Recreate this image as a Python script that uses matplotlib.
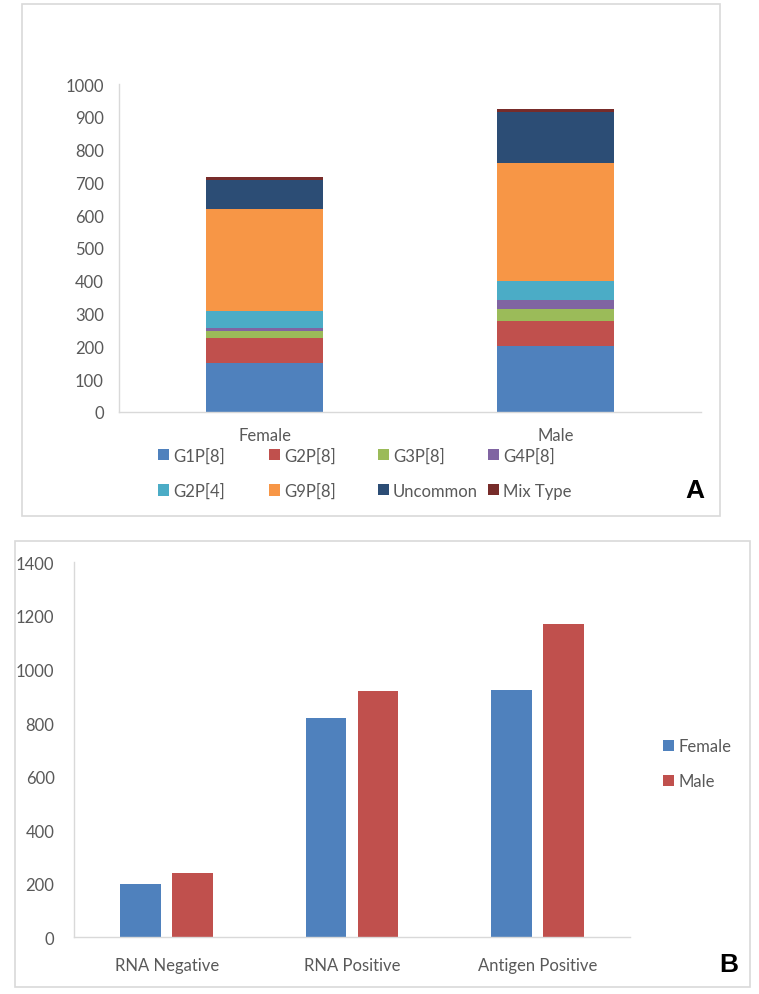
import numpy as np
import matplotlib.pyplot as plt
from matplotlib.patches import Rectangle

plt.rcParams['font.family'] = ['Lato', 'DejaVu Sans']

# Panel A: genotypes by sex (stacked)
sexes = ["Female", "Male"]
genotypes = ["G1P[8]", "G2P[8]", "G3P[8]", "G4P[8]", "G2P[4]", "G9P[8]", "Uncommon", "Mix Type"]
g1p8 = [150, 202]
g2p8 = [75, 76]
g3p8 = [22, 37]
g4p8 = [9, 27]
g2p4 = [51, 56]
g9p8 = [311, 360]
uncommon = [90, 158]
mixtype = [9, 8]
geno_colors = ["#4F81BD", "#C0504D", "#9BBB59", "#8064A2", "#4BACC6", "#F79646", "#2C4D75", "#772C2A"]

# Panel B: test results by sex
tests = ["RNA Negative", "RNA Positive", "Antigen Positive"]
female = [200, 818, 924]
male = [240, 918, 1169]

W, H = 759, 995
fig = plt.figure(figsize=(W / 100, H / 100), dpi=100)
TXT = "#595959"
LINE = "#D9D9D9"


def rect(x0, y0, x1, y1):
    # pixel box (top-left origin) -> figure fraction
    return [x0 / W, 1 - y1 / H, (x1 - x0) / W, (y1 - y0) / H]


def frame(x0, y0, x1, y1):
    r = rect(x0, y0, x1, y1)
    fig.patches.append(Rectangle((r[0], r[1]), r[2], r[3], transform=fig.transFigure,
                                 fill=False, edgecolor=LINE, linewidth=1.2))


def style(ax, ypad, xpad):
    for s in ["top", "right"]:
        ax.spines[s].set_visible(False)
    for s in ["left", "bottom"]:
        ax.spines[s].set_color(LINE)
        ax.spines[s].set_linewidth(1.0)
    ax.tick_params(axis="y", length=0, pad=ypad, labelsize=12, labelcolor=TXT)
    ax.tick_params(axis="x", length=0, pad=xpad, labelsize=12, labelcolor=TXT)


LEG = dict(frameon=False, borderpad=0, borderaxespad=0, handlelength=0.65,
           handleheight=0.65, handletextpad=0.25, labelspacing=1.15,
           fontsize=12, labelcolor=TXT)

frame(22, 5, 720, 517)
frame(15, 542, 750, 988)

# ---- Panel A
axA = fig.add_axes(rect(119, 85, 701, 413))
series = [g1p8, g2p8, g3p8, g4p8, g2p4, g9p8, uncommon, mixtype]
xa = np.arange(len(sexes))
bottom = np.zeros(len(sexes))
handles = []
for name, vals, c in zip(genotypes, series, geno_colors):
    b = axA.bar(xa, vals, 0.4, bottom=bottom, color=c, label=name, linewidth=0)
    handles.append(b)
    bottom += np.array(vals)
axA.set_xlim(-0.5, 1.5)
axA.set_ylim(0, 1000)
axA.set_yticks(np.arange(0, 1001, 100))
axA.set_xticks(xa)
axA.set_xticklabels(sexes)
style(axA, 11, 11)

col_x = [158, 269, 378, 488]
for i, x in enumerate(col_x):
    fig.legend([handles[i], handles[i + 4]], [genotypes[i], genotypes[i + 4]],
               loc="center left", bbox_to_anchor=(x / W, 1 - 474 / H), **LEG)
fig.text(695 / W, 1 - 491 / H, "A", fontsize=19, fontweight="bold",
         family="Liberation Sans", ha="center", va="center")

# ---- Panel B
axB = fig.add_axes(rect(74, 563.3, 630, 938.3))
xb = np.arange(len(tests))
bf = axB.bar(xb - 0.14, female, 0.22, color="#4F81BD", label="Female", linewidth=0)
bm = axB.bar(xb + 0.14, male, 0.22, color="#C0504D", label="Male", linewidth=0)
axB.set_xlim(-0.5, 2.5)
axB.set_ylim(0, 1400)
axB.set_yticks(np.arange(0, 1401, 200))
axB.set_xticks(xb)
axB.set_xticklabels(tests)
style(axB, 14, 14)
fig.legend([bf, bm], ["Female", "Male"], loc="center left",
           bbox_to_anchor=(663 / W, 1 - 764.5 / H), **LEG)
fig.text(729 / W, 1 - 965 / H, "B", fontsize=19, fontweight="bold",
         family="Liberation Sans", ha="center", va="center")

fig.savefig("out.png", dpi=100)
